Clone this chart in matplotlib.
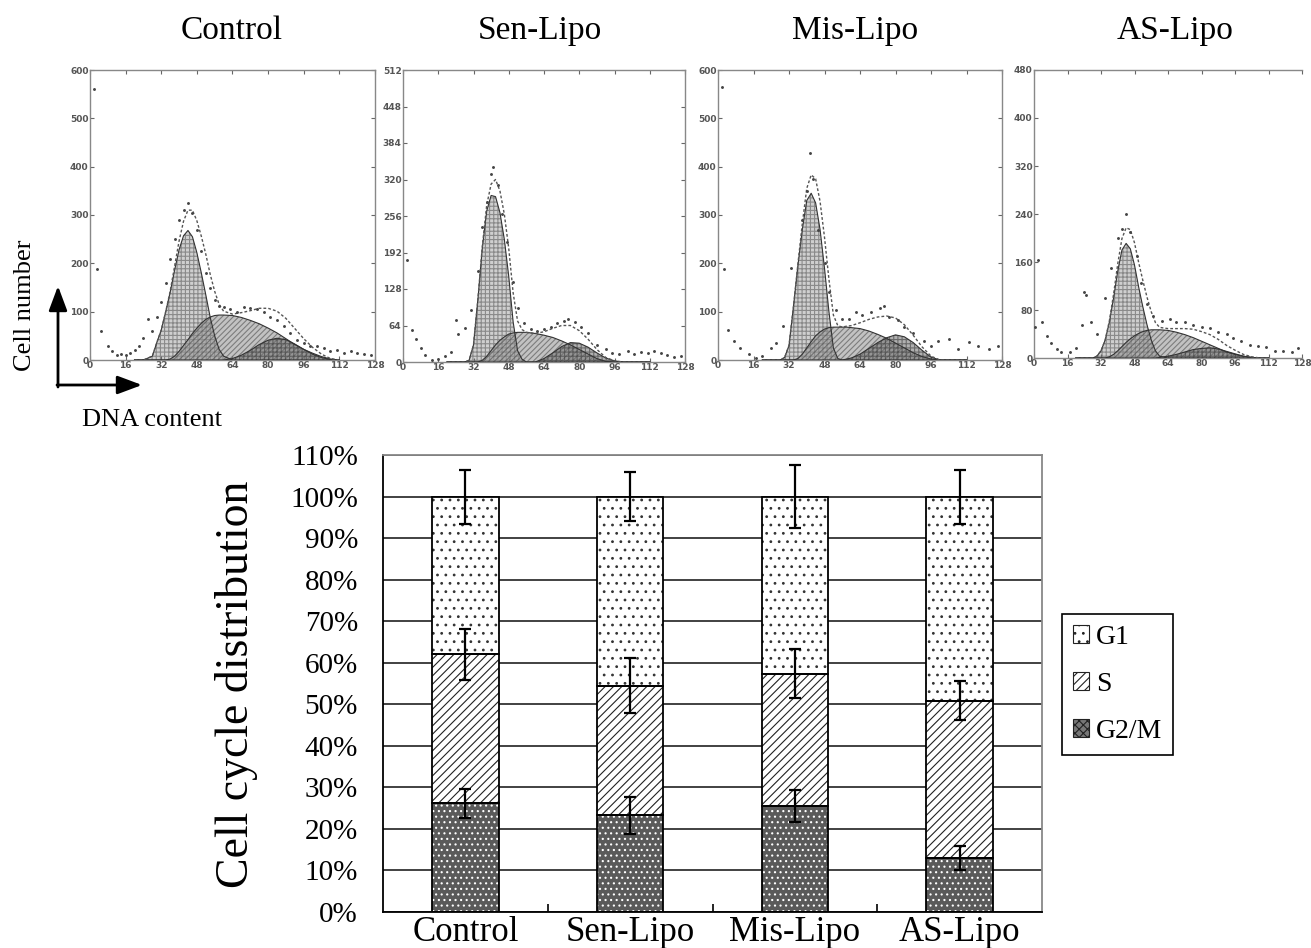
import matplotlib
matplotlib.use("Agg")
import matplotlib.pyplot as plt
from matplotlib.patches import Patch
import numpy as np

W, H = 1311, 948
plt.rcParams['hatch.linewidth'] = 0.8
SERIF = ['Liberation Serif', 'DejaVu Serif']

# ---------------- flow cytometry histograms ----------------
channel = [20, 24, 28, 30, 32, 34, 36, 38, 40, 42, 44, 46, 48, 50, 52, 54,
           56, 58, 60, 64, 68, 72, 76, 80, 84, 88, 92, 96, 100, 104, 108, 112]

ctrl_g1 = [0, 0, 8, 36, 62, 100, 140, 186, 228, 257, 268, 255, 222, 180, 135, 88,
           50, 22, 8, 0, 0, 0, 0, 0, 0, 0, 0, 0, 0, 0, 0, 0]
ctrl_s = [0, 0, 0, 0, 0, 0, 2, 8, 18, 30, 42, 55, 66, 76, 84, 89,
          92, 93, 93, 92, 88, 82, 75, 66, 56, 44, 32, 22, 14, 7, 2, 0]
ctrl_g2 = [0, 0, 0, 0, 0, 0, 0, 0, 0, 0, 0, 0, 0, 0, 0, 0,
           0, 0, 0, 3, 10, 20, 32, 41, 45, 42, 33, 22, 12, 5, 1, 0]

sen_g1 = [0, 0, 0, 3, 30, 110, 200, 265, 292, 290, 262, 215, 150, 70, 20, 5,
          0, 0, 0, 0, 0, 0, 0, 0, 0, 0, 0, 0, 0, 0, 0, 0]
sen_s = [0, 0, 0, 0, 0, 0, 3, 10, 20, 30, 38, 44, 49, 51, 52, 52,
         52, 51, 50, 47, 43, 37, 30, 22, 14, 6, 1, 0, 0, 0, 0, 0]
sen_g2 = [0, 0, 0, 0, 0, 0, 0, 0, 0, 0, 0, 0, 0, 0, 0, 0,
          0, 0, 0, 6, 16, 27, 34, 33, 26, 16, 7, 2, 0, 0, 0, 0]

mis_g1 = [0, 0, 0, 5, 30, 110, 195, 270, 330, 345, 325, 270, 190, 100, 25, 3,
          0, 0, 0, 0, 0, 0, 0, 0, 0, 0, 0, 0, 0, 0, 0, 0]
mis_s = [0, 0, 0, 0, 0, 0, 3, 12, 25, 38, 50, 58, 64, 67, 68, 68,
         68, 68, 67, 65, 60, 53, 45, 35, 25, 15, 7, 2, 0, 0, 0, 0]
mis_g2 = [0, 0, 0, 0, 0, 0, 0, 0, 0, 0, 0, 0, 0, 0, 0, 0,
          0, 2, 4, 12, 24, 36, 46, 52, 48, 36, 20, 6, 0, 0, 0, 0]

as_g1 = [0, 0, 0, 3, 12, 30, 60, 100, 145, 180, 191, 182, 155, 118, 85, 55,
         30, 12, 3, 0, 0, 0, 0, 0, 0, 0, 0, 0, 0, 0, 0, 0]
as_s = [0, 0, 0, 0, 0, 0, 2, 6, 12, 19, 26, 32, 37, 41, 44, 46,
        47, 47, 47, 46, 43, 39, 34, 28, 22, 16, 10, 6, 3, 1, 0, 0]
as_g2 = [0, 0, 0, 0, 0, 0, 0, 0, 0, 0, 0, 0, 0, 0, 0, 0,
         0, 0, 1, 3, 6, 10, 14, 16, 17, 15, 11, 7, 3, 1, 0, 0]

# raw event dots
ctrl_dot_ch = [2, 3, 5, 8, 10, 12, 14, 16, 18, 20, 22, 24, 26, 28, 30, 32, 34, 36, 38, 40,
               42, 44, 46, 48, 50, 52, 54, 56, 58, 60, 63, 66, 69, 72, 75, 78, 81, 84, 87, 90,
               93, 96, 99, 102, 105, 108, 111, 114, 117, 120, 123, 126]
ctrl_dot_val = [560, 188, 60, 30, 18, 10, 12, 10, 15, 20, 30, 45, 85, 60, 90, 120, 160, 210, 250, 290,
                310, 325, 305, 270, 225, 180, 150, 125, 112, 110, 105, 100, 110, 108, 105, 100, 90, 82, 70, 55,
                42, 35, 30, 28, 25, 18, 20, 14, 18, 15, 12, 10]
sen_dot_ch = [2, 4, 6, 8, 10, 13, 16, 19, 22, 24, 25, 28, 31, 34, 36, 38, 40, 41, 43, 45,
              47, 50, 52, 55, 58, 61, 64, 67, 70, 73, 75, 78, 81, 84, 88, 92, 95, 98, 102, 105,
              108, 111, 114, 117, 120, 123, 126]
sen_dot_val = [179, 56, 40, 25, 12, 4, 6, 10, 18, 74, 49, 60, 91, 160, 237, 280, 330, 342, 310, 260,
               210, 140, 95, 68, 58, 55, 58, 62, 68, 72, 76, 70, 62, 50, 30, 22, 16, 14, 20, 14,
               18, 15, 20, 16, 12, 8, 10]
mis_dot_ch = [2, 2.5, 4.5, 7, 10, 14, 17, 20, 24, 26, 29.5, 33, 38, 40, 41.5, 43, 45, 48, 50, 53,
              56, 59, 62, 65, 69, 73, 75, 77, 81, 84, 88, 93, 96, 99, 104, 108, 113, 117, 122, 126]
mis_dot_val = [565, 188, 62, 40, 25, 12, 5, 8, 25, 35, 70, 190, 290, 350, 428, 375, 270, 200, 140, 103,
               85, 85, 100, 93, 100, 108, 112, 88, 82, 68, 55, 40, 30, 40, 43, 22, 37, 30, 22, 30]
as_dot_ch = [0.5, 2, 4, 6, 8, 11, 13, 17, 20, 23, 24, 25, 27, 30, 34, 37, 40, 42, 44, 46,
             49, 51, 54, 57, 61, 65, 68, 72, 76, 80, 84, 88, 92, 95, 99, 103, 107, 111, 115, 119,
             123, 126]
as_dot_val = [52, 163, 60, 37, 25, 15, 10, 10, 17, 55, 110, 105, 60, 40, 100, 150, 200, 215, 240, 210,
              170, 125, 90, 70, 62, 65, 60, 60, 55, 52, 50, 43, 40, 33, 28, 22, 20, 18, 12, 12,
              10, 17]

hist_titles = ['Control', 'Sen-Lipo', 'Mis-Lipo', 'AS-Lipo']
hist_ymax = [600, 512, 600, 480]
hist_ystep = [100, 64, 100, 80]
x_ticks = [0, 16, 32, 48, 64, 80, 96, 112, 128]

# ---------------- bar chart ----------------
groups = ['Control', 'Sen-Lipo', 'Mis-Lipo', 'AS-Lipo']
g2m = [26.2, 23.3, 25.5, 13.0]
s_phase = [35.8, 31.2, 31.8, 37.8]
g1 = [38.0, 45.5, 42.7, 49.2]
g2m_err = [3.5, 4.5, 3.8, 3.0]
s_err = [6.1, 6.6, 5.9, 4.7]
g1_err = [6.5, 5.8, 7.6, 6.5]

fig = plt.figure(figsize=(W / 100, H / 100), dpi=100)


def px_axes(left, top, right, bottom):
    return fig.add_axes([left / W, 1 - bottom / H, (right - left) / W, (bottom - top) / H])


# overlay in pixel coordinates for arrows
ov = fig.add_axes([0, 0, 1, 1], zorder=-1)
ov.set_xlim(0, W)
ov.set_ylim(H, 0)
ov.axis('off')


def draw_hist(ax, cg1, cs, cg2, dch, dval, ymax, ystep):
    x = np.array(channel)
    a, b, c = np.array(cg1), np.array(cs), np.array(cg2)
    ax.fill_between(x, 0, a, facecolor='#cfcfcf', edgecolor='#8a8a8a', hatch='++++', lw=0, zorder=1)
    ax.fill_between(x, 0, b, facecolor='#909090', alpha=0.55, edgecolor='#444444', hatch='//////', lw=0, zorder=2)
    ax.fill_between(x, 0, c, facecolor='#707070', alpha=0.55, edgecolor='#333333', hatch='++++', lw=0, zorder=3)
    for y in (a, b, c):
        ax.plot(x, y, color='#333333', lw=0.8, zorder=4)
    ax.plot(x, a + b + c, color='#555555', lw=1.0, ls=(0, (2, 1.5)), zorder=5)
    ax.plot(dch, dval, ls='none', marker='o', ms=2.1, mew=0, color='#444444', zorder=6)
    ax.set_xlim(0, 128)
    ax.set_ylim(0, ymax)
    ax.set_xticks(x_ticks)
    ax.set_yticks(np.arange(0, ymax + 1, ystep))
    ax.tick_params(direction='in', length=3, width=0.8, color='#666666', top=True, right=True,
                   labelsize=6.5, labelcolor='#555555', pad=1)
    for lab in ax.get_xticklabels() + ax.get_yticklabels():
        lab.set_fontweight('bold')
    for sp in ax.spines.values():
        sp.set_color('#888888')
        sp.set_linewidth(1.0)


hist_boxes = [(90, 70, 375, 360), (403, 70, 685, 362), (718, 70, 1002, 360), (1034, 70, 1302, 358)]
hist_title_x = [232, 540, 855, 1175]
hist_data = [
    (ctrl_g1, ctrl_s, ctrl_g2, ctrl_dot_ch, ctrl_dot_val),
    (sen_g1, sen_s, sen_g2, sen_dot_ch, sen_dot_val),
    (mis_g1, mis_s, mis_g2, mis_dot_ch, mis_dot_val),
    (as_g1, as_s, as_g2, as_dot_ch, as_dot_val),
]
for i in range(4):
    hax = px_axes(*hist_boxes[i])
    cg1, cs, cg2, dch, dval = hist_data[i]
    draw_hist(hax, cg1, cs, cg2, dch, dval, hist_ymax[i], hist_ystep[i])
    if i == 3:
        hax.spines['right'].set_visible(False)
        hax.tick_params(right=False)
    fig.text(hist_title_x[i] / W, 1 - 31 / H, hist_titles[i], ha='center', va='center',
             fontsize=24, family=SERIF)

# axis hints
ov.annotate('', xy=(58, 286), xytext=(58, 387),
            arrowprops=dict(arrowstyle='-|>,head_length=0.75,head_width=0.28', lw=2.0,
                            color='black', shrinkA=0, shrinkB=0, mutation_scale=20))
ov.annotate('', xy=(142, 385), xytext=(57, 385),
            arrowprops=dict(arrowstyle='-|>,head_length=0.75,head_width=0.28', lw=2.0,
                            color='black', shrinkA=0, shrinkB=0, mutation_scale=20))
fig.text(25 / W, 1 - 305 / H, 'Cell number', rotation=90, ha='center', va='center',
         fontsize=19, family=SERIF)
fig.text(152 / W, 1 - 420 / H, 'DNA content', ha='center', va='center', fontsize=19, family=SERIF)

# ---------------- stacked bar chart ----------------
ax = px_axes(383, 455, 1042, 912)
xpos = np.arange(len(groups))
bw = 0.405
bot_s = np.array(g2m)
bot_g1 = bot_s + np.array(s_phase)

ax.bar(xpos, g2m, bw, color='#5a5a5a', edgecolor='white', hatch='...', lw=0, zorder=2)
ax.bar(xpos, s_phase, bw, bottom=bot_s, color='white', edgecolor='#222222', hatch='////', lw=0, zorder=2)
ax.bar(xpos, g1, bw, bottom=bot_g1, color='white', edgecolor='#333333', hatch='..', lw=0, zorder=2)
for vals, bots in ((g2m, 0), (s_phase, bot_s), (g1, bot_g1)):
    ax.bar(xpos, vals, bw, bottom=bots, fill=False, edgecolor='black', lw=1.3, zorder=3)

tops = [bot_s, bot_g1, bot_g1 + np.array(g1)]
for t, e in zip(tops, (g2m_err, s_err, g1_err)):
    ax.errorbar(xpos, t, yerr=e, fmt='none', ecolor='black', elinewidth=1.6,
                capsize=4.3, capthick=1.6, zorder=5)

ax.set_xlim(-0.5, 3.5)
ax.set_ylim(0, 110)
ax.set_yticks(range(0, 111, 10))
ax.set_yticklabels([f'{v}%' for v in range(0, 111, 10)], fontsize=21, family=SERIF)
ax.yaxis.grid(True, color='#333333', lw=1.3)
ax.set_axisbelow(True)
ax.set_xticks(xpos)
ax.set_xticklabels(groups, fontsize=25, family=SERIF)
ax.set_xticks([0.5, 1.5, 2.5], minor=True)
ax.tick_params(axis='x', which='major', length=0, pad=3)
ax.tick_params(axis='x', which='minor', direction='in', length=6, width=1.2)
ax.tick_params(axis='y', length=0, pad=18)
ax.spines['left'].set_linewidth(1.3)
ax.spines['bottom'].set_linewidth(1.3)
for k in ('top', 'right'):
    ax.spines[k].set_color('#888888')
    ax.spines[k].set_linewidth(1.3)

fig.text(237 / W, 1 - 684 / H, 'Cell cycle distribution', rotation=90, ha='center', va='center',
         fontsize=33, family=SERIF)

handles = [Patch(facecolor='white', edgecolor='#222222', hatch='..', lw=0.8),
           Patch(facecolor='white', edgecolor='#222222', hatch='////', lw=0.8),
           Patch(facecolor='#777777', edgecolor='#222222', hatch='xxxx', lw=0.8)]
leg = fig.legend(handles, ['G1', 'S', 'G2/M'], loc='upper left',
                 bbox_to_anchor=(1062 / W, 1 - 614 / H), frameon=True, fancybox=False,
                 edgecolor='black', framealpha=1, prop={'family': SERIF, 'size': 20},
                 handlelength=0.6, handleheight=0.6, handletextpad=0.25,
                 labelspacing=0.8, borderpad=0.38, borderaxespad=0)
leg.get_frame().set_linewidth(1.2)

fig.savefig('out.png', dpi=100)
